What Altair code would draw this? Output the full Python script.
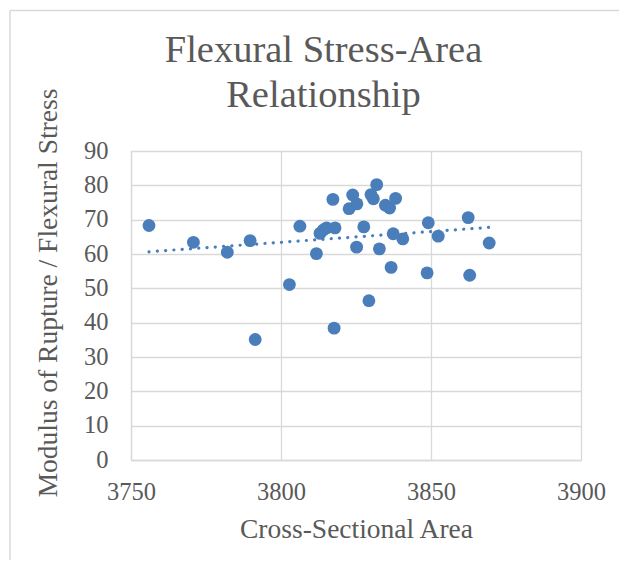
import altair as alt
import pandas as pd

# Cross-sectional area (x) and modulus of rupture / flexural stress (y)
area = [3756.0, 3770.8, 3782.1, 3789.7, 3791.4, 3802.8, 3806.3, 3811.8, 3817.7, 3817.3,
        3823.9, 3822.7, 3825.3, 3814.1, 3815.2, 3818.0, 3825.2, 3831.9, 3830.0, 3830.8,
        3834.8, 3836.2, 3838.2, 3827.6, 3832.8, 3837.4, 3840.6, 3836.7, 3829.3, 3849.1,
        3852.4, 3862.4, 3869.4, 3848.7, 3862.9, 3813.0]
stress = [68.3, 63.4, 60.5, 63.9, 35.1, 51.1, 68.1, 60.1, 38.4, 75.9,
          77.2, 73.2, 74.6, 67.0, 67.6, 67.6, 62.0, 80.2, 77.3, 76.1,
          74.2, 73.4, 76.2, 67.9, 61.5, 65.9, 64.4, 56.1, 46.4, 69.1,
          65.2, 70.6, 63.2, 54.5, 53.8, 66.0]

x_ticks = [3750, 3800, 3850, 3900]
y_ticks = [0, 10, 20, 30, 40, 50, 60, 70, 80, 90]

title_lines = ["Flexural Stress-Area", "Relationship"]
x_title = "Cross-Sectional Area"
y_title = "Modulus of Rupture / Flexural Stress"

FONT = "Liberation Serif"
TEXT = "#595959"
GRID = "#D9D9D9"
BLUE = "#4A7EBB"

W, H = 450, 309

df = pd.DataFrame({"area": area, "stress": stress})

x_enc = alt.X(
    "area:Q",
    scale=alt.Scale(domain=[3750, 3900], nice=False, zero=False),
    axis=alt.Axis(
        values=x_ticks, format="d", title=x_title, grid=True, gridColor=GRID, gridWidth=1.3,
        domainColor=GRID, domainWidth=1.3, ticks=False, tickSize=0,
        labelFont=FONT, labelFontSize=24.5, labelColor=TEXT, labelPadding=39,
        labelBaseline="alphabetic", labelFlush=False, labelOverlap=False,
        titleFont=FONT, titleFontSize=27.5, titleColor=TEXT, titleFontWeight="normal",
        titleX=W / 2, titleY=77, titleAlign="center", titleBaseline="alphabetic",
    ),
)
y_enc = alt.Y(
    "stress:Q",
    scale=alt.Scale(domain=[0, 90], nice=False, zero=True),
    axis=alt.Axis(
        values=y_ticks, format="d", title=y_title, grid=True, gridColor=GRID, gridWidth=1.3,
        domainColor=GRID, domainWidth=1.3, ticks=False, tickSize=0,
        labelFont=FONT, labelFontSize=24.5, labelColor=TEXT, labelPadding=23,
        labelBaseline="middle", labelFlush=False, labelOverlap=False,
        titleFont=FONT, titleFontSize=27.5, titleColor=TEXT, titleFontWeight="normal",
        titleX=-83, titleY=141.5, titleAngle=270, titleAlign="center",
        titleBaseline="middle",
    ),
)

base = alt.Chart(df)
points = base.mark_circle(size=165, color=BLUE, opacity=1).encode(x=x_enc, y=y_enc)
trend = (
    base.transform_regression("area", "stress", method="linear")
    .mark_line(color=BLUE, strokeWidth=3.2, strokeDash=[0.1, 8.2], strokeCap="round")
    .encode(x=x_enc, y=y_enc)
)

one = alt.Data(values=[{"k": 1}])
frame_left = alt.Chart(one).mark_rule(color=GRID, strokeWidth=1.5).encode(
    x=alt.value(-121), y=alt.value(-140.6), y2=alt.value(420)
)
frame_top = alt.Chart(one).mark_rule(color=GRID, strokeWidth=1.5).encode(
    x=alt.value(-121), x2=alt.value(500), y=alt.value(-140.6)
)

chart = (
    alt.layer(frame_left, frame_top, points, trend)
    .properties(
        width=W,
        height=H,
        autosize=alt.AutoSizeParams(type="none"),
        padding={"left": 123, "top": 143, "right": 38, "bottom": 100},
        title=alt.TitleParams(
            text=title_lines, font=FONT, fontSize=38.5, fontWeight="normal",
            color=TEXT, lineHeight=45, anchor="middle", dx=-32.5, offset=0, dy=106,
        ),
    )
    .configure_axis(labelOverlap=False)
    .configure_view(strokeWidth=0)
    .configure(background="white")
)

chart.save("out.html", embed_options={"renderer": "svg", "actions": False})
